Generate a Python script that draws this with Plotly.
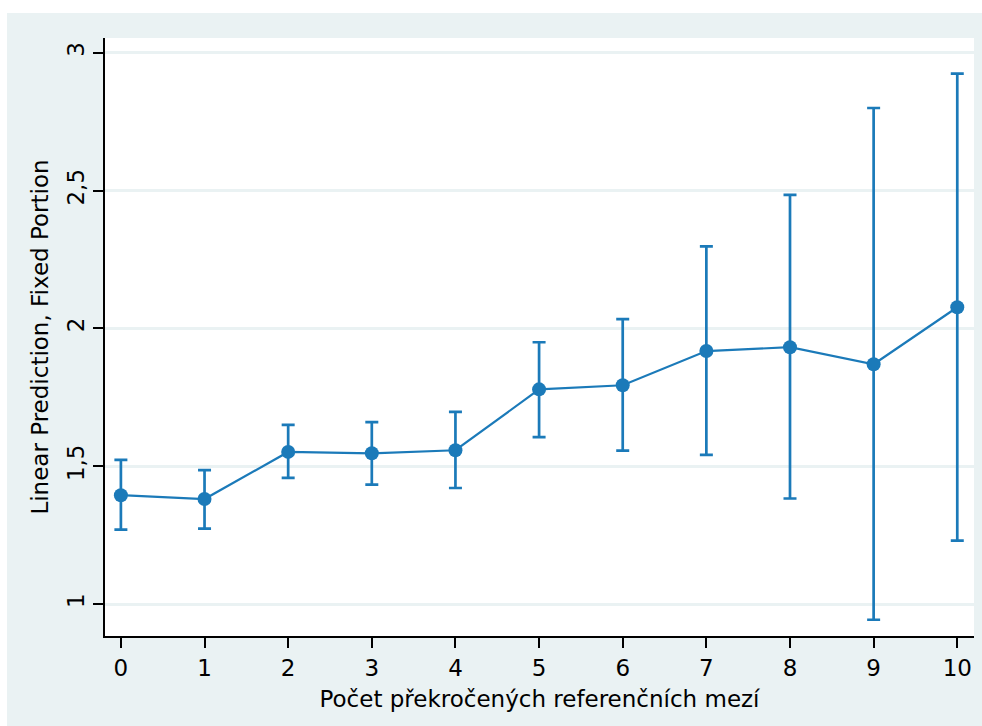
import plotly.graph_objects as go

x_vals = [0, 1, 2, 3, 4, 5, 6, 7, 8, 9, 10]
y_pred = [1.395, 1.381, 1.552, 1.547, 1.558, 1.779, 1.794, 1.918, 1.932, 1.870, 2.077]
ci_hi = [1.523, 1.486, 1.650, 1.660, 1.697, 1.950, 2.034, 2.298, 2.485, 2.800, 2.925]
ci_lo = [1.270, 1.274, 1.458, 1.433, 1.421, 1.606, 1.557, 1.541, 1.383, 0.943, 1.230]
y_ticks = [1, 1.5, 2, 2.5, 3]
y_ticktext = ["1", "1,5", "2", "2,5", "3"]
x_title = "Počet překročených referenčních mezí"
y_title = "Linear Prediction, Fixed Portion"

blue = "#1b7ab9"
bg = "#EAF2F3"
font = "DejaVu Sans"

fig = go.Figure()
fig.add_trace(go.Scatter(
    x=x_vals, y=y_pred, mode="lines+markers",
    line=dict(color=blue, width=2.2),
    marker=dict(color=blue, size=14),
    error_y=dict(type="data", symmetric=False,
                 array=[h - p for h, p in zip(ci_hi, y_pred)],
                 arrayminus=[p - l for l, p in zip(ci_lo, y_pred)],
                 color=blue, thickness=2.7, width=6.5),
    showlegend=False,
))

W, H = 982, 726
L, R, T, B = 105, 8, 38, 90
pw, ph = W - L - R, H - T - B

fig.add_shape(type="rect", xref="paper", yref="paper",
              x0=(7 - L) / pw, x1=(W - L) / pw,
              y0=-B / ph, y1=1 + (T - 13) / ph,
              fillcolor=bg, line=dict(width=0), layer="below")
fig.add_shape(type="rect", xref="paper", yref="paper",
              x0=0, x1=1, y0=0, y1=1,
              fillcolor="white", line=dict(width=0), layer="below")

fig.update_layout(
    width=W, height=H,
    margin=dict(l=L, r=R, t=T, b=B, pad=0),
    paper_bgcolor="white", plot_bgcolor="white",
    font=dict(family=font, size=22, color="black"),
    xaxis=dict(range=[-0.19, 10.2], tickvals=x_vals, showgrid=False, zeroline=False,
               showline=True, linecolor="black", linewidth=2,
               ticks="outside", ticklen=10, tickwidth=2, tickcolor="black",
               tickfont=dict(size=23),
               title=dict(text=x_title, font=dict(size=23), standoff=11)),
    yaxis=dict(range=[0.884, 3.054], tickvals=y_ticks, ticktext=y_ticktext,
               tickangle=-90, showgrid=True, gridcolor=bg, gridwidth=2.5, zeroline=False,
               showline=True, linecolor="black", linewidth=2,
               ticks="outside", ticklen=10, tickwidth=2, tickcolor="black",
               tickfont=dict(size=23),
               title=dict(text=y_title, font=dict(size=23), standoff=8)),
)

fig.write_html("out.html")
